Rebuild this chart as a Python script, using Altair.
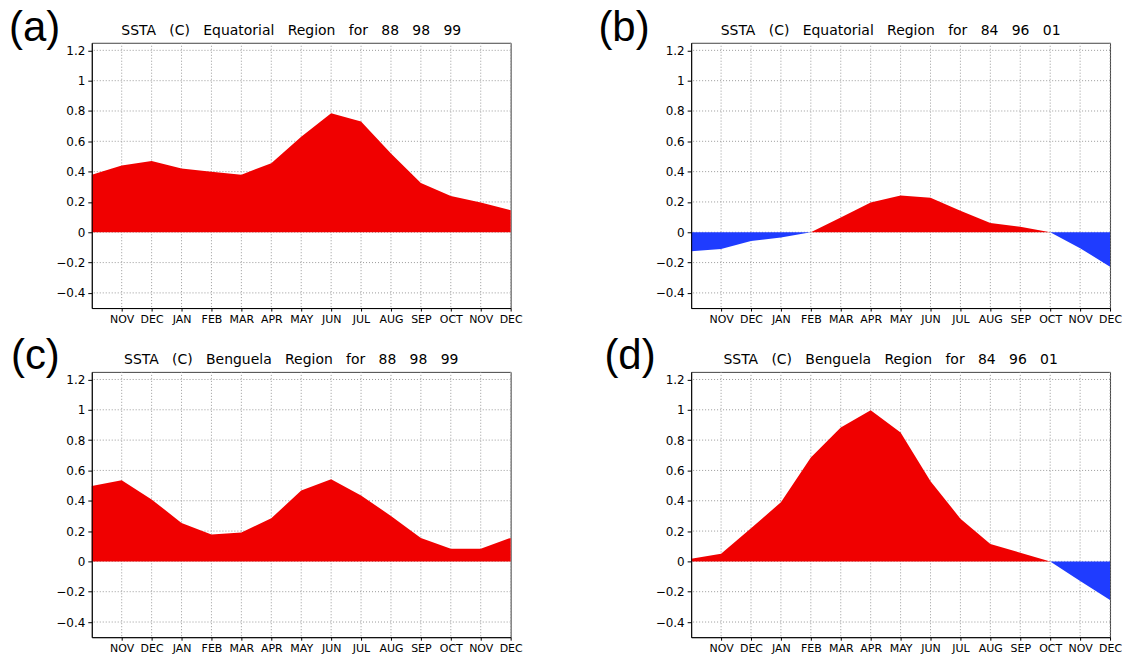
import json
import altair as alt
import pandas as pd

# ---- data ----
months = ["OCT", "NOV", "DEC", "JAN", "FEB", "MAR", "APR", "MAY",
          "JUN", "JUL", "AUG", "SEP", "OCT", "NOV", "DEC"]

eq_88_98_99 = [0.38, 0.44, 0.47, 0.42, 0.40, 0.38, 0.455, 0.63,
               0.785, 0.73, 0.52, 0.325, 0.24, 0.197, 0.145]
eq_84_96_01 = [-0.125, -0.11, -0.057, -0.035, 0.0, 0.098, 0.197, 0.243,
               0.227, 0.142, 0.061, 0.037, 0.0, -0.105, -0.227]
bg_88_98_99 = [0.498, 0.535, 0.409, 0.254, 0.177, 0.19, 0.284, 0.468,
               0.542, 0.435, 0.30, 0.155, 0.083, 0.083, 0.155]
bg_84_96_01 = [0.017, 0.05, 0.219, 0.39, 0.686, 0.883, 0.997, 0.85,
               0.529, 0.282, 0.114, 0.057, 0.0, -0.129, -0.254]

titles = [
    "SSTA (C) Equatorial Region for 88 98 99",
    "SSTA (C) Equatorial Region for 84 96 01",
    "SSTA (C) Benguela Region for 88 98 99",
    "SSTA (C) Benguela Region for 84 96 01",
]
letters = ["(a)", "(b)", "(c)", "(d)"]
y_ticks = [-0.4, -0.2, 0, 0.2, 0.4, 0.6, 0.8, 1, 1.2]

# ---- style ----
RED = "#f00000"
BLUE = "#1f3cff"
GRID = "#9a9a9a"
W, H = 420, 266
FONT = "DejaVu Sans"

x_labels = [""] + months[1:]
label_expr = json.dumps(x_labels) + "[datum.value]"
n = len(months)


def wide(s):
    return "\u00a0\u00a0\u00a0".join(s.split(" "))


def panel(values, title, letter, lx, ly):
    df = pd.DataFrame({"i": list(range(n)), "v": values})
    xscale = alt.Scale(domain=[0, n - 1], nice=False, zero=False)
    yscale = alt.Scale(domain=[-0.5, 1.25], nice=False, zero=False)
    xaxis = alt.Axis(values=list(range(1, n)), labelExpr=label_expr, grid=False,
                     title=None, labelAngle=0, tickSize=3, labelPadding=2,
                     labelFontSize=11, labelOverlap=False, labelFlush=False,
                     zindex=1)
    yaxis = alt.Axis(values=y_ticks, format="~g", grid=False, title=None,
                     tickSize=4, labelPadding=3, labelFontSize=12,
                     labelOverlap=False, labelFlush=False, zindex=1)

    gx = alt.Chart(pd.DataFrame({"g": list(range(1, n))})).mark_rule(
        color=GRID, strokeDash=[1, 2], strokeWidth=1
    ).encode(x=alt.X("g:Q", scale=xscale, axis=xaxis))
    gy = alt.Chart(pd.DataFrame({"g": y_ticks})).mark_rule(
        color=GRID, strokeDash=[1, 2], strokeWidth=1
    ).encode(y=alt.Y("g:Q", scale=yscale, axis=yaxis))

    base = alt.Chart(df)
    pos = base.transform_calculate(p="max(datum.v, 0)").mark_area(
        color=RED, opacity=1
    ).encode(x=alt.X("i:Q", scale=xscale, axis=xaxis),
             y=alt.Y("p:Q", scale=yscale, axis=yaxis))
    neg = base.transform_calculate(q="min(datum.v, 0)").mark_area(
        color=BLUE, opacity=1
    ).encode(x=alt.X("i:Q", scale=xscale, axis=xaxis),
             y=alt.Y("q:Q", scale=yscale, axis=yaxis))

    ttl = alt.Chart(pd.DataFrame({"t": [wide(title)]})).mark_text(
        font=FONT, fontSize=14, align="center", baseline="alphabetic", color="black"
    ).encode(text="t:N", x=alt.value(W / 2 - 10), y=alt.value(-8))
    let = alt.Chart(pd.DataFrame({"t": [letter]})).mark_text(
        font="Liberation Sans", fontSize=42, align="left", baseline="alphabetic",
        color="black"
    ).encode(text="t:N", x=alt.value(lx), y=alt.value(ly))

    return alt.layer(gx, gy, pos, neg, ttl, let).properties(width=W, height=H)


pa = panel(eq_88_98_99, titles[0], letters[0], -83, -2)
pb = panel(eq_84_96_01, titles[1], letters[1], -93, -2)
pc = panel(bg_88_98_99, titles[2], letters[2], -81, -3)
pd_ = panel(bg_84_96_01, titles[3], letters[3], -87, -3)

chart = alt.concat(
    pa, pb, pc, pd_, columns=2, spacing={"row": 64, "column": 181}, bounds="flush"
).properties(
    padding={"top": -3, "left": 0, "right": 0, "bottom": 0}, background="white"
).configure_view(
    stroke="#444444", strokeWidth=1
).configure_axis(
    domainColor="black", tickColor="black", labelColor="black",
    labelFont=FONT, domainWidth=1, tickWidth=1
)

chart.save("out.html", embed_options={"renderer": "svg", "actions": False})
